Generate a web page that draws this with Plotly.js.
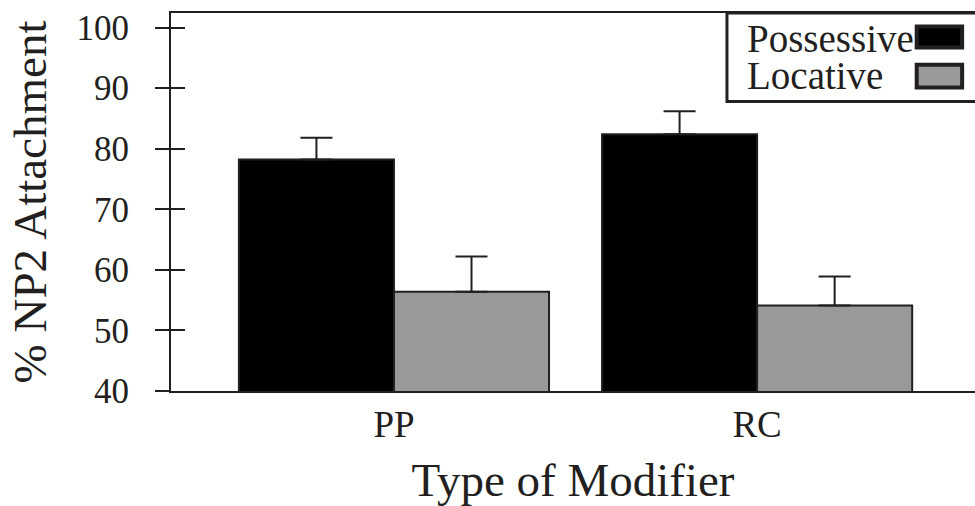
<!DOCTYPE html>
<html>
<head>
<meta charset="utf-8">
<script src="https://cdn.plot.ly/plotly-3.0.1.min.js"></script>
<style>html,body{margin:0;padding:0;background:#fff;}#chart{width:975px;height:506px;}</style>
</head>
<body>
<div id="chart"></div>
<script>
const categories = ["PP", "RC"];
const seriesNames = ["Possessive", "Locative"];
const possessiveValues = [78.2, 82.4];
const possessiveErrors = [3.6, 3.8];
const locativeValues = [56.4, 54.1];
const locativeErrors = [5.8, 4.8];
const yTickValues = [40, 50, 60, 70, 80, 90, 100];

const ink = "#231f20";
const fills = ["#000000", "#999999"];
const font = "Liberation Serif, Times New Roman, serif";

function barTrace(name, vals, errs, color) {
  return {
    type: "bar", name: name, x: categories, y: vals,
    marker: {color: color, line: {color: ink, width: 2}},
    error_y: {type: "data", array: errs, symmetric: false, arrayminus: errs.map(() => 0),
              color: ink, thickness: 2, width: 16},
    showlegend: false, hoverinfo: "x+y"
  };
}

const data = [
  barTrace(seriesNames[0], possessiveValues, possessiveErrors, fills[0]),
  barTrace(seriesNames[1], locativeValues, locativeErrors, fills[1])
];

// legend drawn with swatches to the right of the labels, as in the reference
const legendShapes = [
  {type: "rect", xref: "paper", yref: "paper", x0: 0.6915, x1: 1.05, y0: 0.766, y1: 1,
   line: {color: ink, width: 3}, fillcolor: "rgba(0,0,0,0)"},
  {type: "rect", xref: "paper", yref: "paper", x0: 0.9275, x1: 0.984, y0: 0.909, y1: 0.964,
   line: {color: ink, width: 4}, fillcolor: fills[0]},
  {type: "rect", xref: "paper", yref: "paper", x0: 0.9275, x1: 0.984, y0: 0.803, y1: 0.863,
   line: {color: ink, width: 4}, fillcolor: fills[1]}
];
const legendAnns = [
  {text: seriesNames[0], xref: "paper", yref: "paper", x: 0.7145, y: 0.935, xanchor: "left", yanchor: "middle",
   showarrow: false, height: 34, valign: "middle", font: {family: font, size: 39, color: ink}},
  {text: seriesNames[1], xref: "paper", yref: "paper", x: 0.7145, y: 0.837, xanchor: "left", yanchor: "middle",
   showarrow: false, height: 34, valign: "middle", font: {family: font, size: 39, color: ink}}
];

const layout = {
  width: 975, height: 506,
  margin: {l: 171, r: 0, t: 13, b: 115},
  paper_bgcolor: "#fff", plot_bgcolor: "#fff",
  barmode: "group", bargap: 0.146, bargroupgap: 0,
  font: {family: font, color: ink},
  xaxis: {
    type: "category", range: [-0.614, 1.6],
    showline: true, linecolor: ink, linewidth: 2, mirror: true,
    ticks: "", showgrid: false, zeroline: false,
    tickfont: {family: font, size: 37, color: ink},
    title: {text: "Type of Modifier", font: {family: font, size: 47, color: ink}, standoff: 23}
  },
  yaxis: {
    range: [40, 102.4], tickvals: yTickValues, ticktext: yTickValues.map(String),
    showline: true, linecolor: ink, linewidth: 2,
    ticks: "outside", ticklen: 14, tickwidth: 2, tickcolor: ink,
    ticklabelstandoff: 19,
    showgrid: false, zeroline: false,
    tickfont: {family: font, size: 35, color: ink},
    title: {text: "% NP2 Attachment", font: {family: font, size: 47, color: ink}, standoff: 15}
  },
  yaxis2: {
    overlaying: "y", range: [40, 102.4], tickvals: yTickValues,
    ticks: "inside", ticklen: 14, tickwidth: 2, tickcolor: ink,
    showticklabels: false, showgrid: false, zeroline: false, showline: false
  },
  shapes: legendShapes,
  annotations: legendAnns
};

// invisible trace so the second (inside-tick) axis is drawn
data.push({type: "scatter", x: [categories[0]], y: [yTickValues[0]], yaxis: "y2", mode: "markers",
           marker: {opacity: 0}, showlegend: false, hoverinfo: "skip"});

Plotly.newPlot("chart", data, layout, {staticPlot: true});
</script>
</body>
</html>
